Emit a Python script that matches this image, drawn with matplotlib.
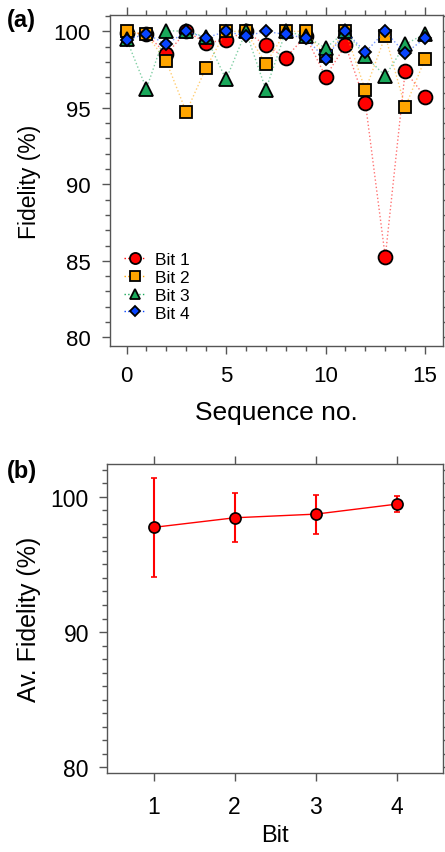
import numpy as np
import matplotlib
matplotlib.use('Agg')
import matplotlib.pyplot as plt
from matplotlib.ticker import MultipleLocator

plt.rcParams['font.family'] = ['Liberation Sans', 'DejaVu Sans']

# %% data
seq = list(range(16))
bit1 = [99.9, 99.85, 98.5, 100.0, 99.26, 99.43, 100.0, 99.08, 98.28, 99.7, 97.04, 99.1, 95.34, 85.25, 97.41, 95.73]
bit2 = [100.0, 99.8, 98.04, 94.73, 97.63, 100.0, 100.0, 97.89, 100.0, 100.0, 98.4, 100.0, 96.16, 99.7, 95.05, 98.2]
bit3 = [99.5, 96.25, 100.05, 100.0, 99.63, 96.86, 100.0, 96.2, 100.0, 99.7, 98.9, 100.0, 98.39, 97.08, 99.15, 99.85]
bit4 = [99.43, 99.85, 99.15, 100.0, 99.58, 100.0, 99.7, 100.0, 99.8, 99.56, 98.2, 100.0, 98.65, 100.0, 98.56, 99.56]

bits = [1, 2, 3, 4]
av_fid = [97.74, 98.45, 98.72, 99.46]
av_err = [3.64, 1.82, 1.44, 0.57]

red = '#ff0000'
orange = '#ffa500'
green = '#19a85a'
blue = '#0844ff'
frame = '#555555'


def style_axes(ax):
    for s in ax.spines.values():
        s.set_color(frame)
        s.set_linewidth(1.0)
    ax.tick_params(which='both', direction='out', colors=frame, labelcolor='black',
                   top=True, right=True)
    ax.tick_params(which='major', length=6, width=1.0)
    ax.tick_params(which='minor', length=3.5, width=1.0)


fig = plt.figure(figsize=(4.45, 8.53), dpi=100)

# %% (a) fidelity per sequence
ax1 = fig.add_axes([0.2472, 0.5932, 0.7483, 0.3880])
series = [(bit1, red, 'o', 10, 'Bit 1'),
          (bit2, orange, 's', 8.5, 'Bit 2'),
          (bit3, green, '^', 9.5, 'Bit 3'),
          (bit4, blue, 'D', 6.5, 'Bit 4')]
for vals, col, mk, ms, lab in series:
    ax1.plot(seq, vals, linestyle=':', linewidth=1.0, color=col, alpha=0.55)
    ax1.plot(seq, vals, linestyle='none', marker=mk, markersize=ms,
             markerfacecolor=col, markeredgecolor='black', markeredgewidth=1.3)
    # legend proxy
    ax1.plot([], [], linestyle=':', linewidth=1.0, color=col, marker=mk,
             markersize=ms, markerfacecolor=col, markeredgecolor='black',
             markeredgewidth=1.3, label=lab)
ax1.set_xlim(-0.83, 15.9)
ax1.set_ylim(79.43, 101.07)
ax1.xaxis.set_major_locator(MultipleLocator(5))
ax1.xaxis.set_minor_locator(MultipleLocator(1))
ax1.yaxis.set_major_locator(MultipleLocator(5))
ax1.yaxis.set_minor_locator(MultipleLocator(1))
style_axes(ax1)
ax1.tick_params(axis='x', which='major', labelsize=16, pad=8)
ax1.tick_params(axis='y', which='major', labelsize=16, pad=8)
ax1.tick_params(axis='x', which='both', labeltop=False)
ax1.tick_params(axis='y', which='both', labelright=False)
ax1.set_xlabel('Sequence no.', fontsize=19, labelpad=10)
ax1.set_ylabel('Fidelity (%)', fontsize=16.5, labelpad=9)
ax1.legend(loc='lower left', bbox_to_anchor=(0.0, 0.035), frameon=False,
           fontsize=12.5, handlelength=1.3, handletextpad=0.5,
           labelspacing=0.15, borderpad=0.3, markerscale=0.8)

# %% (b) average fidelity
ax2 = fig.add_axes([0.2404, 0.0926, 0.7551, 0.3617])
ax2.errorbar(bits, av_fid, yerr=av_err, color=red, linewidth=1.0, marker='o',
             markersize=8, markerfacecolor=red, markeredgecolor='black',
             markeredgewidth=1.2, elinewidth=1.5, capsize=2.5, capthick=1.3,
             ecolor=red)
ax2.set_xlim(0.425, 4.57)
ax2.set_ylim(79.58, 102.39)
ax2.set_xticks(bits)
ax2.yaxis.set_major_locator(MultipleLocator(10))
ax2.yaxis.set_minor_locator(MultipleLocator(1))
style_axes(ax2)
ax2.tick_params(axis='x', which='major', labelsize=16.5, pad=10)
ax2.tick_params(axis='y', which='major', labelsize=16.5, pad=7)
ax2.tick_params(axis='x', which='both', labeltop=False)
ax2.tick_params(axis='y', which='both', labelright=False)
ax2.set_xlabel('Bit', fontsize=17, labelpad=4)
ax2.set_ylabel('Av. Fidelity (%)', fontsize=18, labelpad=7)

fig.text(0.015, 0.976, '(a)', fontsize=17, fontweight='bold', va='center', ha='left')
fig.text(0.015, 0.447, '(b)', fontsize=17, fontweight='bold', va='center', ha='left')

fig.savefig('out.png', dpi=100)
